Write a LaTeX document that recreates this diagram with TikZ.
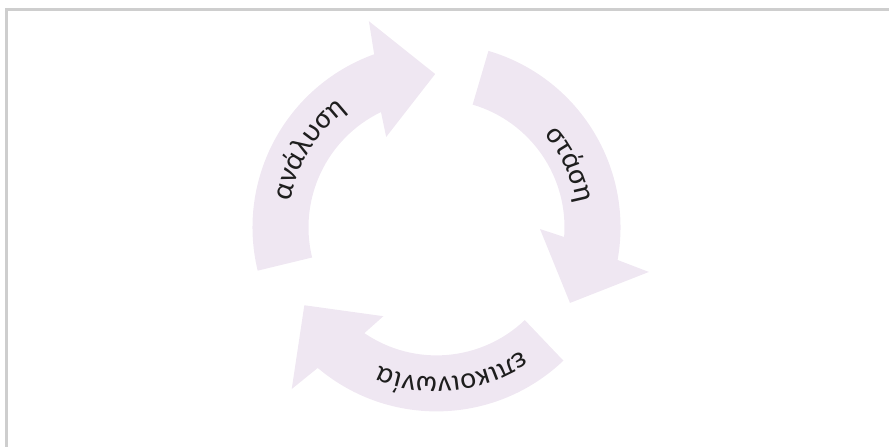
\documentclass[tikz,border=0pt]{standalone}
\usepackage{fontspec}
\setmainfont{Carlito}
\usetikzlibrary{decorations.text}
\definecolor{arrowfill}{RGB}{239,231,242}
\definecolor{framegray}{RGB}{206,206,206}
\definecolor{labelink}{RGB}{30,30,30}
\newcommand{\arclabelfont}{\fontsize{30}{34}\selectfont\color{labelink}}
\tikzset{
  cyclearrow/.style={fill=arrowfill, draw=none},
  arclabel/.style={decorate, decoration={text along path, text align=center, text={#1}}}
}
\begin{document}
\begin{tikzpicture}[x=1pt,y=1pt]
\useasboundingbox (0,0) rectangle (889,447);
\draw[framegray, line width=2.6pt] (6.3,-3) -- (6.3,437.4) -- (892,437.4);
\coordinate (c) at (436.5,219.6);
% three arrows of the cycle
\foreach \rot in {0,120,240}
  \fill[cyclearrow, shift={(c)}, rotate=\rot] (73.6:184) arc[start angle=73.6, end angle=-10.2, radius=184] -- (-11.85:217) -- (-29.5:153.4) -- (-0.9:103.5) -- (-4.3:128) arc[start angle=-4.3, end angle=73.6, radius=128] -- cycle;
% labels along the arrows
\begin{scope}[shift={(c)}]
\path[arclabel={|\arclabelfont|ανάλυση}] (178.7:148) arc[start angle=178.7, end angle=118.7, radius=148];
\path[arclabel={|\arclabelfont|στάση}] (55.2:142) arc[start angle=55.2, end angle=-4.8, radius=142];
\path[arclabel={|\arclabelfont|επικοινωνία}] (-48.9:150) arc[start angle=-48.9, end angle=-118.9, radius=150];
\end{scope}
\end{tikzpicture}
\end{document}
